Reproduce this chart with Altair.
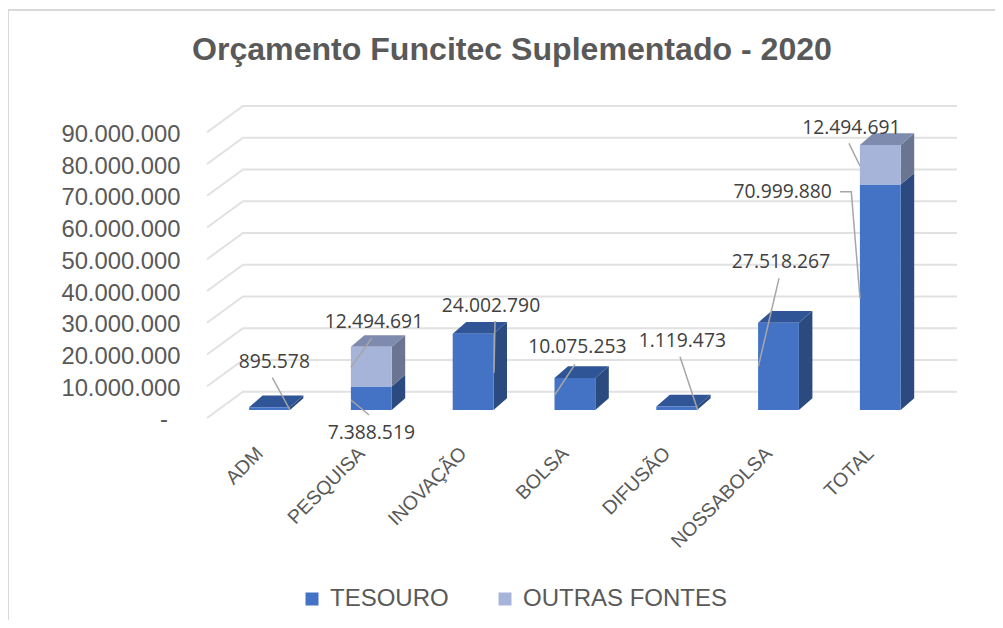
import altair as alt
import pandas as pd

# ---- values
categories = ["ADM", "PESQUISA", "INOVAÇÃO", "BOLSA", "DIFUSÃO", "NOSSABOLSA", "TOTAL"]
tesouro = [895578, 7388519, 24002790, 10075253, 1119473, 27518267, 70999880]
outras = [0, 12494691, 0, 0, 0, 0, 12494691]
y_ticks = [0, 10e6, 20e6, 30e6, 40e6, 50e6, 60e6, 70e6, 80e6, 90e6]
series_names = ["TESOURO", "OUTRAS FONTES"]

# ---- layout (page pixels)
PAD_L, PAD_T = 199, 90
PLOT_W, PLOT_H = 750, 320
PAD_R, PAD_B = 38, 202
STEP = 101.8              # px per category
CENTER0 = 269.5           # page x of first category
PX_PER_UNIT = 3.175e-6    # px per currency unit
ORIGIN_Y = 418            # page y of zero on the front floor edge

def X(px):
    return (px - CENTER0) / STEP

def V(py):
    return (ORIGIN_Y - py) / PX_PER_UNIT

x_scale = alt.Scale(domain=[X(PAD_L + 8), X(PAD_L + 8 + PLOT_W)], nice=False, zero=False)
y_scale = alt.Scale(domain=[0, PLOT_H / PX_PER_UNIT], nice=False, zero=False)

label_expr = "[" + ",".join(f"'{c}'" for c in categories) + "][datum.value]"
x_axis = alt.Axis(
    title=None, values=list(range(len(categories))), labelExpr=label_expr, domain=False, ticks=False,
    grid=False, labelAngle=-45, labelAlign="right", labelBaseline="middle", labelPadding=32, labelOffset=-10,
    labelFont="Liberation Sans", labelFontSize=19.5, labelColor="#595959", labelOverlap=False,
    labelBound=False, labelFlush=False)
y_axis = alt.Axis(
    title=None, values=y_ticks[1:], domain=False, ticks=False, grid=False,
    labelExpr="replace(format(datum.value, ',d'), /,/g, '.')",
    labelPadding=27, labelOffset=2, labelFont="Liberation Sans", labelFontSize=23.8, labelColor="#595959",
    labelOverlap=False, labelBound=False, labelFlush=False, labelLimit=300)

xq = lambda f="x": alt.X(f"{f}:Q", scale=x_scale, axis=x_axis)
yq = lambda f="y": alt.Y(f"{f}:Q", scale=y_scale, axis=y_axis)

BASE = 8 / PX_PER_UNIT     # bars stand on a floor 8px in from the front edge
HALF = 20.4 / STEP         # half a bar
DX, DY = 13.5 / STEP, 11.7 / PX_PER_UNIT   # bar depth
GRID_DX, GRID_DY = 36 / STEP, 26.3 / PX_PER_UNIT

FRONT = {"TESOURO": "#4472C4", "OUTRAS FONTES": "#A6B4DA"}
SIDE = {"TESOURO": "#2A4A80", "OUTRAS FONTES": "#6A7691"}
TOP = {"TESOURO": "#2F5597", "OUTRAS FONTES": "#7F8BAE"}

# ---- derived tables
segments = []
for i, (t, o) in enumerate(zip(tesouro, outras)):
    segments.append(dict(i=i, s="TESOURO", lo=BASE, hi=BASE + t, last=o == 0))
    if o:
        segments.append(dict(i=i, s="OUTRAS FONTES", lo=BASE + t, hi=BASE + t + o, last=True))

front_rows, side_rows, top_rows = [], [], []
for n, s in enumerate(segments):
    L, R = s["i"] - HALF, s["i"] + HALF
    front_rows.append(dict(x=L, x2=R, y=s["lo"], y2=s["hi"], series=s["s"], i=s["i"]))
    for f in (0, 1):
        side_rows.append(dict(id=n, x=R + f * DX, y=s["lo"] + f * DY, y2=s["hi"] + f * DY,
                              fill=SIDE[s["s"]]))
        if s["last"]:
            top_rows.append(dict(id=n, x=L + f * DX, x2=R + f * DX, y=s["hi"] + f * DY,
                                 fill=TOP[s["s"]]))

grid_rows = []
x_front, x_back, x_right = X(207), X(243), X(957)
for v in y_ticks:
    grid_rows += [dict(v=v, o=0, x=x_front, y=v),
                  dict(v=v, o=1, x=x_back, y=v + GRID_DY),
                  dict(v=v, o=2, x=x_right, y=v + GRID_DY)]

grid = alt.Chart(pd.DataFrame(grid_rows)).mark_line(color="#E1E1E1", strokeWidth=2, clip=False).encode(
    x=xq(), y=yq(), detail="v:N", order="o:Q")

side = alt.Chart(pd.DataFrame(side_rows)).mark_area(opacity=1).encode(
    x=xq(), y=yq(), y2="y2:Q", detail="id:N", fill=alt.Fill("fill:N", scale=None))

top = alt.Chart(pd.DataFrame(top_rows)).mark_area(orient="horizontal", opacity=1).encode(
    y=yq(), x=xq(), x2="x2:Q", detail="id:N", fill=alt.Fill("fill:N", scale=None))

front = alt.Chart(pd.DataFrame(front_rows)).mark_rect().encode(
    x=xq(), x2="x2:Q", y=yq(), y2="y2:Q",
    color=alt.Color("series:N",
                    scale=alt.Scale(domain=series_names, range=[FRONT[n] for n in series_names]),
                    legend=alt.Legend(title=None, orient="none", legendX=300 - 8 - PAD_L,
                                      legendY=587 - 8 - PAD_T, direction="horizontal",
                                      symbolType="square", symbolSize=169, symbolStrokeWidth=0,
                                      labelFont="Liberation Sans", labelFontSize=24,
                                      labelColor="#595959", labelOffset=6, columnPadding=44,
                                      symbolOpacity=1, labelLimit=300)))

# ---- callouts: text, text centre, leader points (page px)
fmt = lambda n: f"{n:,}".replace(",", ".")
callouts = [
    (fmt(tesouro[0]), 274.3, 361.7, [(272.3, 377.7), (290, 410)]),
    (fmt(outras[1]), 374, 321.7, [(371.7, 338.3), (351, 367.3)]),
    (fmt(tesouro[1]), 371.3, 433, [(369, 415), (351, 400)]),
    (fmt(tesouro[2]), 491, 305.5, [(495, 321), (494, 372.7)]),
    (fmt(tesouro[3]), 577.3, 347.3, [(575, 364.3), (554.7, 395)]),
    (fmt(tesouro[4]), 682.3, 340.7, [(680, 356.7), (697.7, 410)]),
    (fmt(tesouro[5]), 781, 262.3, [(779, 278.3), (758.3, 366.7)]),
    (fmt(tesouro[6]), 782.7, 192.3, [(840, 191.7), (851.3, 191.7), (860, 298.3)]),
    (fmt(outras[6]), 851.3, 127.7, [(849, 143.3), (860, 166)]),
]
label_rows = [dict(x=X(cx), y=V(cy), t=t) for t, cx, cy, _ in callouts]
leader_rows = [dict(id=n, o=k, x=X(px), y=V(py))
               for n, (_, _, _, pts) in enumerate(callouts) for k, (px, py) in enumerate(pts)]

leaders = alt.Chart(pd.DataFrame(leader_rows)).mark_line(color="#A6A6A6", strokeWidth=1.5, clip=False).encode(
    x=xq(), y=yq(), detail="id:N", order="o:Q")
labels = alt.Chart(pd.DataFrame(label_rows)).mark_text(
    font="Open Sans", fontSize=19.3, color="#404040", align="center", baseline="middle").encode(
    x=xq(), y=yq(), text="t:N")

# the zero tick of the axis reads "-" and sits further left than the other labels
zero_label = alt.Chart(pd.DataFrame([dict(x=X(164), y=y_ticks[0] - 2 / PX_PER_UNIT, t="-")])).mark_text(
    font="Liberation Sans", fontSize=23.8, color="#595959", align="center", baseline="middle").encode(
    x=xq(), y=yq(), text="t:N")

# ---- frame lines
frame_rows = [dict(o=0, x=X(8), y=V(628)), dict(o=1, x=X(8), y=V(10)), dict(o=2, x=X(1003), y=V(10))]
frame = alt.Chart(pd.DataFrame(frame_rows)).mark_line(color="#D9D9D9", strokeWidth=2, clip=False).encode(
    x=xq(), y=yq(), order="o:Q")

chart = alt.layer(frame, grid, side, top, front, leaders, labels, zero_label).properties(
    width=PLOT_W, height=PLOT_H, background="white",
    padding={"left": PAD_L, "top": PAD_T, "right": PAD_R, "bottom": PAD_B},
    autosize=alt.AutoSizeParams(type="none"),
    title=alt.TitleParams("Orçamento Funcitec Suplementado - 2020", font="Liberation Sans", fontSize=32.1,
                          fontWeight="bold", color="#595959", anchor="start", frame="group",
                          dx=-15, dy=76, baseline="middle", limit=0, offset=0),
).configure_view(strokeWidth=0, stroke="transparent")

chart.save("out.html", embed_options={"renderer": "svg", "actions": False})
